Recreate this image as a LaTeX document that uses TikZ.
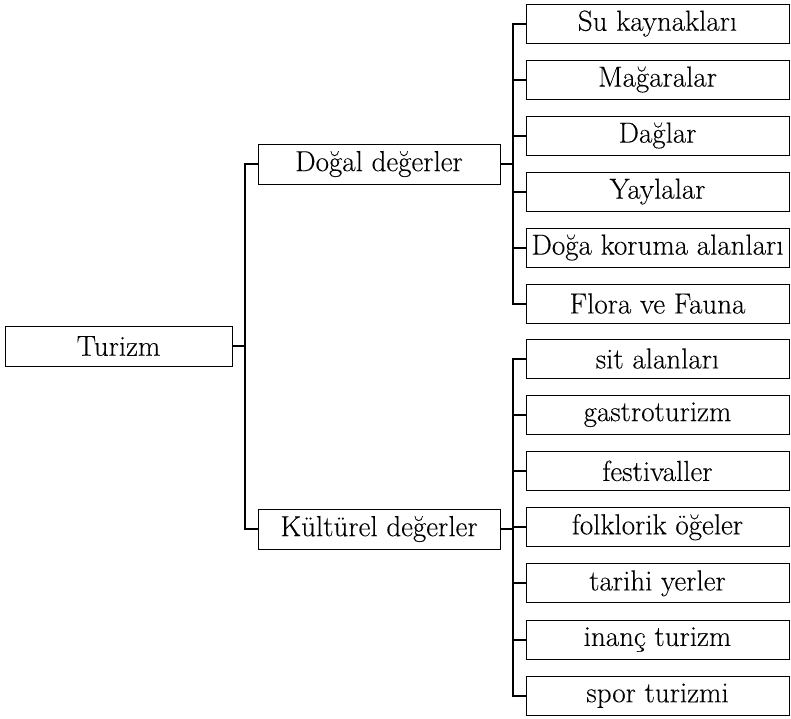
\documentclass[tikz,border=0pt]{standalone}
\usepackage{fontspec}
\setmainfont{Latin Modern Roman}[FakeBold=0.15]
\begin{document}
\begin{tikzpicture}[x=1pt,y=-1pt,
  box/.style={draw=black,line width=1pt,minimum height=39pt,inner sep=0pt,font=\fontsize{29}{32}\selectfont},
  leaf/.style={box,minimum width=263pt},
  mid/.style={box,minimum width=242pt,minimum height=40pt},
  conn/.style={line width=2pt}]
\useasboundingbox (0,0) rectangle (791,718);
\node[box,minimum width=227pt,minimum height=40pt] (tur) at (118.5,346) {Turizm};
\node[mid] (dog) at (379,164) {Doğal değerler};
\node[mid] (kul) at (379,529) {Kültürel değerler};
\foreach \t [count=\i] in {Su kaynakları,Mağaralar,Dağlar,Yaylalar,Doğa koruma alanları,Flora ve Fauna}
  \node[leaf] (a\i) at (657.5,{23.5+56*(\i-1)}) {\t};
\foreach \t [count=\i] in {sit alanları,gastroturizm,festivaller,folklorik öğeler,tarihi yerler,inanç turizm,spor turizmi}
  \node[leaf] (b\i) at (657.5,{358.5+56.2*(\i-1)}) {\t};
\draw[conn] (tur.east) -- ++(13,0);
\draw[conn] (dog.west) -- ++(-13,0) |- (kul.west);
\draw[conn] (dog.east) -- ++(13,0);
\draw[conn] (a1.west) -- ++(-13,0) |- (a6.west);
\foreach \i in {2,...,5} \draw[conn] (a\i.west) -- ++(-13,0);
\draw[conn] (kul.east) -- ++(13,0);
\draw[conn] (b1.west) -- ++(-13,0) |- (b7.west);
\foreach \i in {2,...,6} \draw[conn] (b\i.west) -- ++(-13,0);
\end{tikzpicture}
\end{document}
